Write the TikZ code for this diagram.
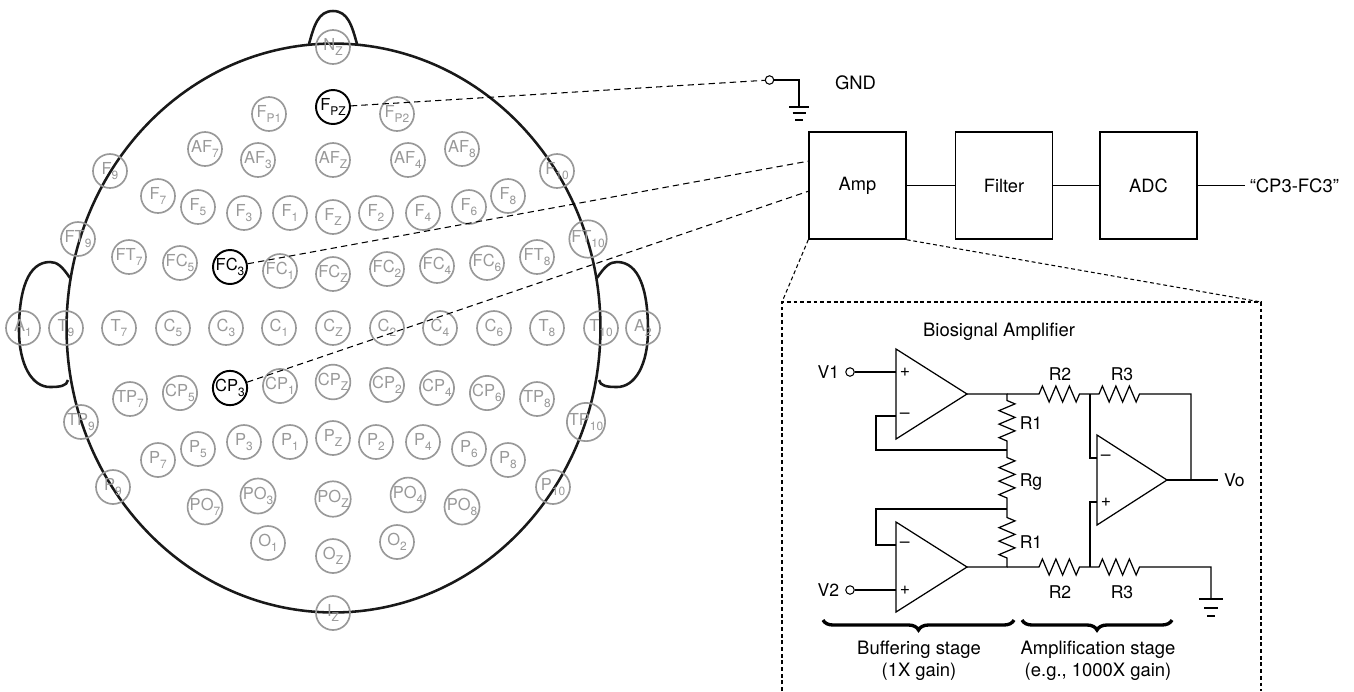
\documentclass[tikz,border=0pt]{standalone}
\usepackage{fontspec}
\setmainfont{TeX Gyre Heros}
\usetikzlibrary{positioning, decorations.pathmorphing, decorations.pathreplacing}
\definecolor{cinza}{gray}{0.6}
\newcommand{\indice}[1]{\raisebox{-0.55ex}{\fontsize{6.8}{7}\selectfont #1}}

\tikzset{
  eletrodo/.style={circle, draw=cinza, text=cinza, line width=0.95pt, minimum size=0.68cm, inner sep=0pt, font=\fontsize{9.4}{11}\selectfont},
  ativo/.style={eletrodo, draw=black, text=black, line width=1.1pt},
  cabeca/.style={line width=1.45pt, black!90},
  ligacao/.style={dash pattern=on 3.6pt off 2.4pt, line width=0.6pt},
  pontilhado/.style={dash pattern=on 2.2pt off 1.6pt, line width=0.6pt},
  bloco/.style={draw, line width=0.85pt, minimum width=1.94cm, minimum height=2.14cm, font=\fontsize{10.4}{12}\selectfont},
  rotulo/.style={font=\fontsize{10.5}{12}\selectfont},
  fio/.style={line width=0.7pt},
  terminal/.style={circle, draw, fill=white, minimum size=0.17cm, inner sep=0pt, line width=0.6pt},
  zz/.style={decoration={zigzag, segment length=0.27cm, amplitude=0.16cm}},
  texto/.style={font=\fontsize{10}{12}\selectfont},
  etapa/.style={font=\fontsize{10.5}{12.6}\selectfont, align=center},
  sinal/.style={font=\fontsize{10}{10}\selectfont, inner sep=2pt},
  chave/.style={decorate, decoration={brace, mirror, amplitude=0.2cm}, line width=1.9pt},
}

\begin{document}
\begin{tikzpicture}[x=0.02cm, y=-0.02cm]
\useasboundingbox (0,0) rectangle (1354,691);

% contorno da cabeça, nariz e orelhas
\draw[cabeca] (333.5,328) ellipse [x radius=5.34cm, y radius=5.69cm];
\draw[cabeca] (309,44) .. controls (314,26) and (318,11) .. (333,11) .. controls (348,11) and (352,26) .. (357,44);
\draw[cabeca] (70,278) .. controls (62,266) and (57,262) .. (50,262) .. controls (28,262) and (19,290) .. (19,330) .. controls (19,365) and (32,387) .. (50,387) .. controls (60,387) and (67,386) .. (68,380);
\draw[cabeca] (597,278) .. controls (605,266) and (610,262) .. (617,262) .. controls (639,262) and (648,290) .. (648,330) .. controls (648,365) and (635,387) .. (617,387) .. controls (607,387) and (600,386) .. (599,380);

% eletrodos do sistema 10-10
\node[eletrodo] (nz) at (333,47) {N\indice{Z}};
\node[eletrodo] (fp1) at (269,114) {F\indice{P1}};
\node[ativo] (fpz) at (333,107) {F\indice{PZ}};
\node[eletrodo] (fp2) at (397,114) {F\indice{P2}};
\node[eletrodo] (af7) at (205,149) {AF\indice{7}};
\node[eletrodo] (af3) at (258,160) {AF\indice{3}};
\node[eletrodo] (afz) at (333,160) {AF\indice{Z}};
\node[eletrodo] (af4) at (408,160) {AF\indice{4}};
\node[eletrodo] (af8) at (462,149) {AF\indice{8}};
\node[eletrodo] (f9) at (110,171) {F\indice{9}};
\node[eletrodo] (f10) at (557,171) {F\indice{10}};
\node[eletrodo] (f7) at (158,196) {F\indice{7}};
\node[eletrodo] (f5) at (198,207) {F\indice{5}};
\node[eletrodo] (f3) at (244,213) {F\indice{3}};
\node[eletrodo] (f1) at (290,213) {F\indice{1}};
\node[eletrodo] (fz) at (333,217) {F\indice{Z}};
\node[eletrodo] (f2) at (376,213) {F\indice{2}};
\node[eletrodo] (f4) at (423,213) {F\indice{4}};
\node[eletrodo] (f6) at (469,207) {F\indice{6}};
\node[eletrodo] (f8) at (508,196) {F\indice{8}};
\node[eletrodo] (ft9) at (78,239) {FT\indice{9}};
\node[eletrodo] (ft10) at (588,239) {FT\indice{10}};
\node[eletrodo] (ft7) at (129,257) {FT\indice{7}};
\node[eletrodo] (fc5) at (180,263) {FC\indice{5}};
\node[ativo] (fc3) at (230,267) {FC\indice{3}};
\node[eletrodo] (fc1) at (280,271) {FC\indice{1}};
\node[eletrodo] (fcz) at (333,274) {FC\indice{Z}};
\node[eletrodo] (fc2) at (387,269) {FC\indice{2}};
\node[eletrodo] (fc4) at (437,266) {FC\indice{4}};
\node[eletrodo] (fc6) at (487,263) {FC\indice{6}};
\node[eletrodo] (ft8) at (537,257) {FT\indice{8}};
\node[eletrodo] (a1) at (23,328) {A\indice{1}};
\node[eletrodo] (t9) at (66,328) {T\indice{9}};
\node[eletrodo] (t7) at (119,328) {T\indice{7}};
\node[eletrodo] (c5) at (173,328) {C\indice{5}};
\node[eletrodo] (c3) at (226,328) {C\indice{3}};
\node[eletrodo] (c1) at (279,328) {C\indice{1}};
\node[eletrodo] (cz) at (333,328) {C\indice{Z}};
\node[eletrodo] (c2) at (387,328) {C\indice{2}};
\node[eletrodo] (c4) at (440,328) {C\indice{4}};
\node[eletrodo] (c6) at (494,328) {C\indice{6}};
\node[eletrodo] (t8) at (547,328) {T\indice{8}};
\node[eletrodo] (t10) at (601,328) {T\indice{10}};
\node[eletrodo] (a2) at (643,328) {A\indice{2}};
\node[eletrodo] (tp7) at (130,399) {TP\indice{7}};
\node[eletrodo] (cp5) at (180,393) {CP\indice{5}};
\node[ativo] (cp3) at (230,388) {CP\indice{3}};
\node[eletrodo] (cp1) at (280,386) {CP\indice{1}};
\node[eletrodo] (cpz) at (333,382) {CP\indice{Z}};
\node[eletrodo] (cp2) at (387,385) {CP\indice{2}};
\node[eletrodo] (cp4) at (437,388) {CP\indice{4}};
\node[eletrodo] (cp6) at (487,393) {CP\indice{6}};
\node[eletrodo] (tp8) at (537,399) {TP\indice{8}};
\node[eletrodo] (tp9) at (81,422) {TP\indice{9}};
\node[eletrodo] (tp10) at (586,422) {TP\indice{10}};
\node[eletrodo] (p7) at (158,460) {P\indice{7}};
\node[eletrodo] (p5) at (198,449) {P\indice{5}};
\node[eletrodo] (p3) at (244,442) {P\indice{3}};
\node[eletrodo] (p1) at (290,442) {P\indice{1}};
\node[eletrodo] (pz) at (333,438) {P\indice{Z}};
\node[eletrodo] (p2) at (376,442) {P\indice{2}};
\node[eletrodo] (p4) at (423,442) {P\indice{4}};
\node[eletrodo] (p6) at (469,449) {P\indice{6}};
\node[eletrodo] (p8) at (508,460) {P\indice{8}};
\node[eletrodo] (p9) at (113,487) {P\indice{9}};
\node[eletrodo] (p10) at (553,487) {P\indice{10}};
\node[eletrodo] (po7) at (205,507) {PO\indice{7}};
\node[eletrodo] (po3) at (258,496) {PO\indice{3}};
\node[eletrodo] (poz) at (333,499) {PO\indice{Z}};
\node[eletrodo] (po4) at (408,495) {PO\indice{4}};
\node[eletrodo] (po8) at (462,507) {PO\indice{8}};
\node[eletrodo] (o1) at (268,543) {O\indice{1}};
\node[eletrodo] (oz) at (333,556) {O\indice{Z}};
\node[eletrodo] (o2) at (397,542) {O\indice{2}};
\node[eletrodo] (iz) at (333,613) {I\indice{Z}};

% referência (GND)
\node[terminal] (termgnd) at (769.5,80) {};
\coordinate (terra) at (799,107);
\node[rotulo] (gndtxt) at (855.5,82.5) {GND};
\draw[fio] (termgnd) -| (terra);
\draw[fio] (789,107) -- (809,107) (792.5,113) -- (805.5,113) (795,120) -- (803,120);

% cadeia de aquisição
\node[bloco] (amp) at (857.5,185.5) {Amp};
\node[bloco] (filtro) at (1004,185.5) {Filter};
\node[bloco] (adc) at (1148.5,185.5) {ADC};
\node[rotulo, anchor=west, inner sep=2.5pt] (saida) at (1245,185.5) {“CP3-FC3”};
\draw[fio] (amp) -- (filtro);
\draw[fio] (filtro) -- (adc);
\draw[fio] (adc) -- (saida);
\coordinate (entrada1) at (809,161);
\coordinate (entrada2) at (809,191);

% ligações dos eletrodos
\draw[ligacao] (fpz) -- (termgnd);
\draw[ligacao] (fc3) -- (entrada1);
\draw[ligacao] (cp3) -- (entrada2);

% detalhe do amplificador
\coordinate (cantoE) at (782,302);
\coordinate (cantoD) at (1261,302);
\draw[pontilhado] (amp.south west) -- (cantoE);
\draw[pontilhado] (amp.south east) -- (cantoD);
\draw[pontilhado] (782,691) -- (cantoE) -- (cantoD) -- (1261,691);
\node[etapa] (titulo) at (999,332) {Biosignal Amplifier};

% amplificadores operacionais
\coordinate (op1s) at (967,394);
\coordinate (op1p) at (896,372);
\coordinate (op1n) at (896,416);
\coordinate (op2s) at (967,567);
\coordinate (op2n) at (896,545);
\coordinate (op2p) at (896,590);
\coordinate (op3s) at (1167,480);
\coordinate (op3n) at (1097,458);
\coordinate (op3p) at (1097,502);
\draw[fio] (op1s) -- ++(-71,-45) -- ++(0,90) -- cycle;
\draw[fio] (op2s) -- ++(-71,-45) -- ++(0,90) -- cycle;
\draw[fio] (op3s) -- ++(-70,-45) -- ++(0,90) -- cycle;
\node[sinal, anchor=west] (s1p) at (op1p) {+};
\node[sinal, anchor=west] (s1n) at (op1n) {--};
\node[sinal, anchor=west] (s2n) at (op2n) {--};
\node[sinal, anchor=west] (s2p) at (op2p) {+};
\node[sinal, anchor=west] (s3n) at (op3n) {--};
\node[sinal, anchor=west] (s3p) at (op3p) {+};

% entradas e saída
\node[terminal] (v1) at (850,372) {};
\node[terminal] (v2) at (850,590) {};
\node[texto, left=0pt of v1] (v1txt) {V1};
\node[texto, left=0pt of v2] (v2txt) {V2};
\node[texto, anchor=west] (vo) at (1218,480) {Vo};
\draw[fio] (v1) -- (op1p);
\draw[fio] (v2) -- (op2p);
\draw[fio] (op3s) -- (vo);

% nós do circuito
\coordinate (nA) at (1007,394);
\coordinate (nB) at (1007,450);
\coordinate (nC) at (1007,509);
\coordinate (nD) at (1007,567);
\coordinate (nE) at (1090,394);
\coordinate (nF) at (1090,567);
\coordinate (nG) at (1191,394);
\coordinate (terra2) at (1211,599);

% resistores e fios
\draw[fio] (op1s) -- (nA) -- ++(0,6.5) decorate[zz]{-- ++(0,41)} -- (nB) -- ++(0,7.5) decorate[zz]{-- ++(0,41)} -- (nC) -- ++(0,8.5) decorate[zz]{-- ++(0,41)} -- (nD) -- (op2s);
\draw[fio] (nA) -- ++(32,0) decorate[zz]{-- ++(41,0)} -- (nE) -- ++(9,0) decorate[zz]{-- ++(41,0)} -- (nG) -- (nG |- op3s);
\draw[fio] (nD) -- ++(32,0) decorate[zz]{-- ++(41,0)} -- (nF) -- ++(9,0) decorate[zz]{-- ++(41,0)} -| (terra2);
\draw[fio] (op1n) -- ++(-20,0) |- (nB);
\draw[fio] (op2n) -- ++(-20,0) |- (nC);
\draw[fio] (nE) |- (op3n);
\draw[fio] (nF) |- (op3p);
\draw[fio] (1199,599) -- (1223,599) (1204,608) -- (1218,608) (1207,616) -- (1215,616);

\node[texto] (r1a) at (1031,423) {R1};
\node[texto] (rg) at (1031,482) {Rg};
\node[texto] (r1b) at (1031,542) {R1};
\node[texto] (r2a) at (1060,374) {R2};
\node[texto] (r3a) at (1122,374) {R3};
\node[texto] (r2b) at (1060,592) {R2};
\node[texto] (r3b) at (1122,592) {R3};

% estágios
\draw[chave] (823,620) -- (1014,620);
\draw[chave] (1022,620) -- (1172,620);
\node[etapa] (buffer) at (919,661) {Buffering stage\\(1X gain)};
\node[etapa] (ganho) at (1098,661) {Amplification stage\\(e.g., 1000X gain)};

\end{tikzpicture}
\end{document}
